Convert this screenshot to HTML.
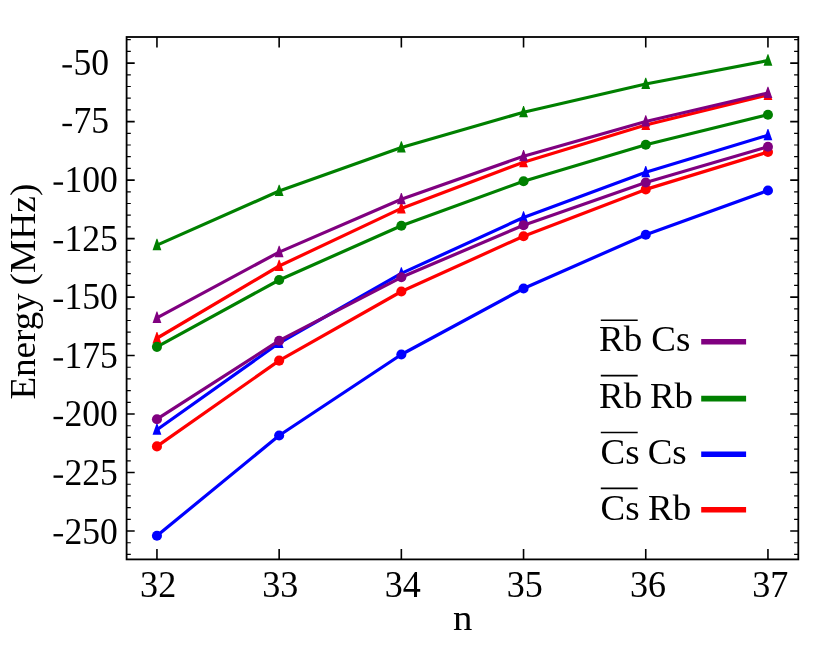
<!DOCTYPE html>
<html><head><meta charset="utf-8"><title>chart</title>
<style>html,body{margin:0;padding:0;background:#fff;}svg{display:block;will-change:transform;}text{font-family:"Liberation Serif",serif;fill:#000;}</style></head><body>
<svg width="830" height="647" viewBox="0 0 830 647">
<rect width="830" height="647" fill="#fff"/>
<polyline points="156.95,338.25 279.15,266.00 401.35,208.40 523.55,162.20 645.75,125.00 767.95,94.90" fill="none" stroke="#ff0000" stroke-width="3.2" stroke-linejoin="round" stroke-linecap="butt"/>
<polygon points="156.55,332.00 157.35,332.00 161.35,343.30 152.55,343.30" fill="#ff0000"/>
<polygon points="278.75,259.75 279.55,259.75 283.55,271.05 274.75,271.05" fill="#ff0000"/>
<polygon points="400.95,202.15 401.75,202.15 405.75,213.45 396.95,213.45" fill="#ff0000"/>
<polygon points="523.15,155.95 523.95,155.95 527.95,167.25 519.15,167.25" fill="#ff0000"/>
<polygon points="645.35,118.75 646.15,118.75 650.15,130.05 641.35,130.05" fill="#ff0000"/>
<polygon points="767.55,88.65 768.35,88.65 772.35,99.95 763.55,99.95" fill="#ff0000"/>
<polyline points="156.95,446.40 279.15,360.60 401.35,291.50 523.55,236.20 645.75,189.40 767.95,152.00" fill="none" stroke="#ff0000" stroke-width="3.2" stroke-linejoin="round" stroke-linecap="butt"/>
<circle cx="156.95" cy="446.40" r="5.05" fill="#ff0000"/>
<circle cx="279.15" cy="360.60" r="5.05" fill="#ff0000"/>
<circle cx="401.35" cy="291.50" r="5.05" fill="#ff0000"/>
<circle cx="523.55" cy="236.20" r="5.05" fill="#ff0000"/>
<circle cx="645.75" cy="189.40" r="5.05" fill="#ff0000"/>
<circle cx="767.95" cy="152.00" r="5.05" fill="#ff0000"/>
<polyline points="156.95,429.75 279.15,343.00 401.35,273.40 523.55,217.50 645.75,172.30 767.95,135.25" fill="none" stroke="#0000ff" stroke-width="3.2" stroke-linejoin="round" stroke-linecap="butt"/>
<polygon points="156.55,423.50 157.35,423.50 161.35,434.80 152.55,434.80" fill="#0000ff"/>
<polygon points="278.75,336.75 279.55,336.75 283.55,348.05 274.75,348.05" fill="#0000ff"/>
<polygon points="400.95,267.15 401.75,267.15 405.75,278.45 396.95,278.45" fill="#0000ff"/>
<polygon points="523.15,211.25 523.95,211.25 527.95,222.55 519.15,222.55" fill="#0000ff"/>
<polygon points="645.35,166.05 646.15,166.05 650.15,177.35 641.35,177.35" fill="#0000ff"/>
<polygon points="767.55,129.00 768.35,129.00 772.35,140.30 763.55,140.30" fill="#0000ff"/>
<polyline points="156.95,535.80 279.15,435.50 401.35,354.50 523.55,288.50 645.75,234.70 767.95,190.50" fill="none" stroke="#0000ff" stroke-width="3.2" stroke-linejoin="round" stroke-linecap="butt"/>
<circle cx="156.95" cy="535.80" r="5.05" fill="#0000ff"/>
<circle cx="279.15" cy="435.50" r="5.05" fill="#0000ff"/>
<circle cx="401.35" cy="354.50" r="5.05" fill="#0000ff"/>
<circle cx="523.55" cy="288.50" r="5.05" fill="#0000ff"/>
<circle cx="645.75" cy="234.70" r="5.05" fill="#0000ff"/>
<circle cx="767.95" cy="190.50" r="5.05" fill="#0000ff"/>
<polyline points="156.95,245.10 279.15,191.00 401.35,147.50 523.55,112.30 645.75,83.95 767.95,60.60" fill="none" stroke="#008000" stroke-width="3.2" stroke-linejoin="round" stroke-linecap="butt"/>
<polygon points="156.55,238.85 157.35,238.85 161.35,250.15 152.55,250.15" fill="#008000"/>
<polygon points="278.75,184.75 279.55,184.75 283.55,196.05 274.75,196.05" fill="#008000"/>
<polygon points="400.95,141.25 401.75,141.25 405.75,152.55 396.95,152.55" fill="#008000"/>
<polygon points="523.15,106.05 523.95,106.05 527.95,117.35 519.15,117.35" fill="#008000"/>
<polygon points="645.35,77.70 646.15,77.70 650.15,89.00 641.35,89.00" fill="#008000"/>
<polygon points="767.55,54.35 768.35,54.35 772.35,65.65 763.55,65.65" fill="#008000"/>
<polyline points="156.95,346.85 279.15,280.00 401.35,225.70 523.55,181.20 645.75,144.70 767.95,114.70" fill="none" stroke="#008000" stroke-width="3.2" stroke-linejoin="round" stroke-linecap="butt"/>
<circle cx="156.95" cy="346.85" r="5.05" fill="#008000"/>
<circle cx="279.15" cy="280.00" r="5.05" fill="#008000"/>
<circle cx="401.35" cy="225.70" r="5.05" fill="#008000"/>
<circle cx="523.55" cy="181.20" r="5.05" fill="#008000"/>
<circle cx="645.75" cy="144.70" r="5.05" fill="#008000"/>
<circle cx="767.95" cy="114.70" r="5.05" fill="#008000"/>
<polyline points="156.95,317.85 279.15,252.10 401.35,199.20 523.55,156.20 645.75,121.45 767.95,93.00" fill="none" stroke="#800080" stroke-width="3.2" stroke-linejoin="round" stroke-linecap="butt"/>
<polygon points="156.55,311.60 157.35,311.60 161.35,322.90 152.55,322.90" fill="#800080"/>
<polygon points="278.75,245.85 279.55,245.85 283.55,257.15 274.75,257.15" fill="#800080"/>
<polygon points="400.95,192.95 401.75,192.95 405.75,204.25 396.95,204.25" fill="#800080"/>
<polygon points="523.15,149.95 523.95,149.95 527.95,161.25 519.15,161.25" fill="#800080"/>
<polygon points="645.35,115.20 646.15,115.20 650.15,126.50 641.35,126.50" fill="#800080"/>
<polygon points="767.55,86.75 768.35,86.75 772.35,98.05 763.55,98.05" fill="#800080"/>
<polyline points="156.95,419.20 279.15,340.70 401.35,277.30 523.55,225.20 645.75,182.50 767.95,146.80" fill="none" stroke="#800080" stroke-width="3.2" stroke-linejoin="round" stroke-linecap="butt"/>
<circle cx="156.95" cy="419.20" r="5.05" fill="#800080"/>
<circle cx="279.15" cy="340.70" r="5.05" fill="#800080"/>
<circle cx="401.35" cy="277.30" r="5.05" fill="#800080"/>
<circle cx="523.55" cy="225.20" r="5.05" fill="#800080"/>
<circle cx="645.75" cy="182.50" r="5.05" fill="#800080"/>
<circle cx="767.95" cy="146.80" r="5.05" fill="#800080"/>
<path d="M126.60,531.06h8.1M798.30,531.06h-8.1M126.60,472.56h8.1M798.30,472.56h-8.1M126.60,414.07h8.1M798.30,414.07h-8.1M126.60,355.57h8.1M798.30,355.57h-8.1M126.60,297.08h8.1M798.30,297.08h-8.1M126.60,238.58h8.1M798.30,238.58h-8.1M126.60,180.09h8.1M798.30,180.09h-8.1M126.60,121.59h8.1M798.30,121.59h-8.1M126.60,63.10h8.1M798.30,63.10h-8.1M156.95,559.40v-10.4M156.95,37.00v10.4M279.15,559.40v-10.4M279.15,37.00v10.4M401.35,559.40v-10.4M401.35,37.00v10.4M523.55,559.40v-10.4M523.55,37.00v10.4M645.75,559.40v-10.4M645.75,37.00v10.4M767.95,559.40v-10.4M767.95,37.00v10.4" stroke="#000" stroke-width="1.6" fill="none"/>
<path d="M126.60,554.46h4.2M798.30,554.46h-4.2M126.60,542.76h4.2M798.30,542.76h-4.2M126.60,519.36h4.2M798.30,519.36h-4.2M126.60,507.66h4.2M798.30,507.66h-4.2M126.60,495.96h4.2M798.30,495.96h-4.2M126.60,484.26h4.2M798.30,484.26h-4.2M126.60,460.87h4.2M798.30,460.87h-4.2M126.60,449.17h4.2M798.30,449.17h-4.2M126.60,437.47h4.2M798.30,437.47h-4.2M126.60,425.77h4.2M798.30,425.77h-4.2M126.60,402.37h4.2M798.30,402.37h-4.2M126.60,390.67h4.2M798.30,390.67h-4.2M126.60,378.97h4.2M798.30,378.97h-4.2M126.60,367.27h4.2M798.30,367.27h-4.2M126.60,343.88h4.2M798.30,343.88h-4.2M126.60,332.18h4.2M798.30,332.18h-4.2M126.60,320.48h4.2M798.30,320.48h-4.2M126.60,308.78h4.2M798.30,308.78h-4.2M126.60,285.38h4.2M798.30,285.38h-4.2M126.60,273.68h4.2M798.30,273.68h-4.2M126.60,261.98h4.2M798.30,261.98h-4.2M126.60,250.28h4.2M798.30,250.28h-4.2M126.60,226.89h4.2M798.30,226.89h-4.2M126.60,215.19h4.2M798.30,215.19h-4.2M126.60,203.49h4.2M798.30,203.49h-4.2M126.60,191.79h4.2M798.30,191.79h-4.2M126.60,168.39h4.2M798.30,168.39h-4.2M126.60,156.69h4.2M798.30,156.69h-4.2M126.60,144.99h4.2M798.30,144.99h-4.2M126.60,133.29h4.2M798.30,133.29h-4.2M126.60,109.90h4.2M798.30,109.90h-4.2M126.60,98.20h4.2M798.30,98.20h-4.2M126.60,86.50h4.2M798.30,86.50h-4.2M126.60,74.80h4.2M798.30,74.80h-4.2M126.60,51.40h4.2M798.30,51.40h-4.2M126.60,39.70h4.2M798.30,39.70h-4.2" stroke="#000" stroke-width="1.2" fill="none"/>
<rect x="126.6" y="37.0" width="671.70" height="522.40" fill="none" stroke="#000" stroke-width="1.8"/>
<rect x="53.52" y="534.06" width="9.51" height="2.35" fill="#000"/>
<text transform="translate(64.53,543.56) scale(0.962,1)" font-size="37.0" text-anchor="start">250</text>
<rect x="53.52" y="475.45" width="9.51" height="2.35" fill="#000"/>
<text transform="translate(64.53,484.95) scale(0.962,1)" font-size="37.0" text-anchor="start">225</text>
<rect x="53.52" y="416.85" width="9.51" height="2.35" fill="#000"/>
<text transform="translate(64.53,426.35) scale(0.962,1)" font-size="37.0" text-anchor="start">200</text>
<rect x="53.52" y="358.24" width="9.51" height="2.35" fill="#000"/>
<text transform="translate(64.53,367.74) scale(0.962,1)" font-size="37.0" text-anchor="start">175</text>
<rect x="53.52" y="299.63" width="9.51" height="2.35" fill="#000"/>
<text transform="translate(64.53,309.13) scale(0.962,1)" font-size="37.0" text-anchor="start">150</text>
<rect x="53.52" y="241.02" width="9.51" height="2.35" fill="#000"/>
<text transform="translate(64.53,250.52) scale(0.962,1)" font-size="37.0" text-anchor="start">125</text>
<rect x="53.52" y="182.41" width="9.51" height="2.35" fill="#000"/>
<text transform="translate(64.53,191.91) scale(0.962,1)" font-size="37.0" text-anchor="start">100</text>
<rect x="62.41" y="123.81" width="9.51" height="2.35" fill="#000"/>
<text transform="translate(73.43,133.31) scale(0.962,1)" font-size="37.0" text-anchor="start">75</text>
<rect x="62.41" y="65.20" width="9.51" height="2.35" fill="#000"/>
<text transform="translate(73.43,74.70) scale(0.962,1)" font-size="37.0" text-anchor="start">50</text>
<text transform="translate(158.15,596.9) scale(0.975,1)" font-size="37.0" text-anchor="middle">32</text>
<text transform="translate(280.35,596.9) scale(0.975,1)" font-size="37.0" text-anchor="middle">33</text>
<text transform="translate(402.85,596.9) scale(0.975,1)" font-size="37.0" text-anchor="middle">34</text>
<text transform="translate(524.75,596.9) scale(0.975,1)" font-size="37.0" text-anchor="middle">35</text>
<text transform="translate(648.05,596.9) scale(0.975,1)" font-size="37.0" text-anchor="middle">36</text>
<text transform="translate(770.25,596.9) scale(0.975,1)" font-size="37.0" text-anchor="middle">37</text>
<text transform="translate(462.6,629.8) scale(1.05,0.965)" font-size="37.0" text-anchor="middle">n</text>
<text transform="translate(34.8,399.5) rotate(-90) scale(1.0,0.95)" font-size="37.0" text-anchor="start">Energy</text>
<text transform="translate(34.8,183.6) rotate(-90) scale(1.013,0.95)" font-size="37.0" text-anchor="end">(MHz)</text>
<text transform="translate(599.1,350.70) scale(1.015,0.965)" font-size="36.4">Rb</text>
<text transform="translate(651.3,350.70) scale(1.015,0.965)" font-size="36.4">Cs</text>
<line x1="600.8" x2="637.7" y1="320.20" y2="320.20" stroke="#000" stroke-width="1.6"/>
<line x1="701.2" x2="746.1" y1="341.70" y2="341.70" stroke="#800080" stroke-width="5.6"/>
<text transform="translate(599.1,407.90) scale(1.015,0.99)" font-size="36.4">Rb</text>
<text transform="translate(649.9,407.90) scale(1.015,0.99)" font-size="36.4">Rb</text>
<line x1="600.8" x2="637.7" y1="375.60" y2="375.60" stroke="#000" stroke-width="1.6"/>
<line x1="701.2" x2="746.1" y1="398.65" y2="398.65" stroke="#008000" stroke-width="5.6"/>
<text transform="translate(600.5,463.90) scale(1.015,0.965)" font-size="36.4">Cs</text>
<text transform="translate(647.7,463.90) scale(1.015,0.965)" font-size="36.4">Cs</text>
<line x1="600.8" x2="637.7" y1="432.50" y2="432.50" stroke="#000" stroke-width="1.6"/>
<line x1="701.2" x2="746.1" y1="454.20" y2="454.20" stroke="#0000ff" stroke-width="5.6"/>
<text transform="translate(600.5,519.50) scale(1.015,1.0)" font-size="36.4">Cs</text>
<text transform="translate(648.0,519.50) scale(1.015,1.0)" font-size="36.4">Rb</text>
<line x1="600.8" x2="637.7" y1="488.40" y2="488.40" stroke="#000" stroke-width="1.6"/>
<line x1="701.2" x2="746.1" y1="509.70" y2="509.70" stroke="#ff0000" stroke-width="5.6"/>
</svg></body></html>
